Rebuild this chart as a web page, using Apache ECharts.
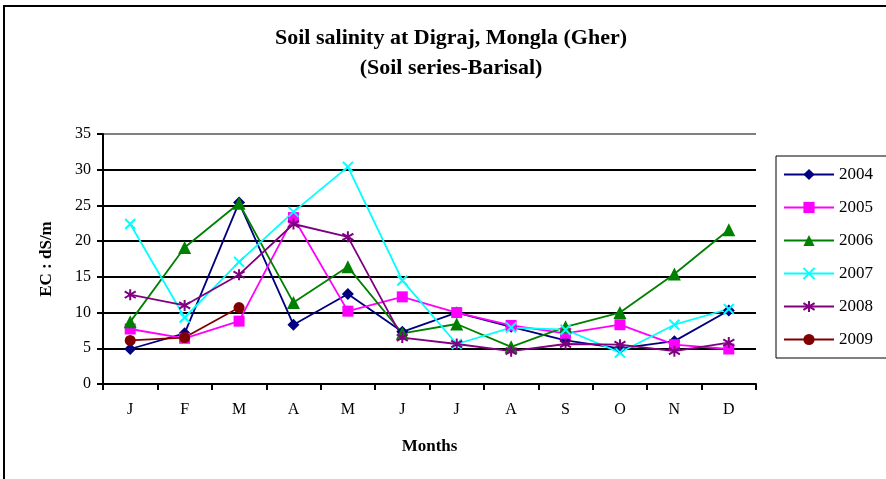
<!DOCTYPE html>
<html>
<head>
<meta charset="utf-8">
<script src="https://cdn.jsdelivr.net/npm/echarts@6/dist/echarts.min.js"></script>
<style>
  html, body { margin: 0; padding: 0; background: #fff; }
  #main { width: 886px; height: 479px; }
</style>
</head>
<body>
<div id="main"></div>
<script>
var myChart = echarts.init(document.getElementById('main'));

var months = ['J', 'F', 'M', 'A', 'M', 'J', 'J', 'A', 'S', 'O', 'N', 'D'];
var years = ['2004', '2005', '2006', '2007', '2008', '2009'];

var ec2004 = [4.9, 7.1, 25.4, 8.3, 12.6, 7.3, 10.0, 8.0, 6.1, 5.0, 6.0, 10.3];
var ec2005 = [7.7, 6.4, 8.8, 23.3, 10.2, 12.2, 10.0, 8.2, 7.1, 8.3, 5.5, 4.9];
var ec2006 = [8.7, 19.1, 25.3, 11.4, 16.4, 7.1, 8.4, 5.2, 8.0, 10.0, 15.4, 21.6];
var ec2007 = [22.4, 9.3, 17.1, 24.1, 30.4, 14.5, 5.6, 7.9, 7.6, 4.4, 8.3, 10.5];
var ec2008 = [12.5, 11.0, 15.3, 22.4, 20.6, 6.5, 5.6, 4.6, 5.6, 5.5, 4.6, 5.8];
var ec2009 = [6.1, 6.5, 10.7, null, null, null, null, null, null, null, null, null];

var colors = ['#000080', '#ff00ff', '#008000', '#00ffff', '#800080', '#800000'];
var symbols = [
    'diamond',
    'rect',
    'triangle',
    'path://M0,0L10,10M10,0L0,10',
    'path://M5,0L5,10M0,2L10,8M0,8L10,2',
    'circle'
];
var sizes = [12, 11, 13, 10, 11, 11];
var values = [ec2004, ec2005, ec2006, ec2007, ec2008, ec2009];

var serif = '"Liberation Serif", "Times New Roman", serif';

var series = years.map(function (y, i) {
    var stroke = i === 3 || i === 4;
    return {
        name: y,
        type: 'line',
        data: values[i],
        symbol: symbols[i],
        symbolSize: sizes[i],
        showAllSymbol: true,
        connectNulls: false,
        lineStyle: { color: colors[i], width: 1.8 },
        itemStyle: {
            color: colors[i],
            borderColor: colors[i],
            borderWidth: stroke ? 2 : 0
        },
        animation: false
    };
});

var option = {
    backgroundColor: '#fff',
    animation: false,
    graphic: [
        {
            type: 'rect',
            shape: { x: 4, y: 6, width: 900, height: 500 },
            style: { fill: 'none', stroke: '#000', lineWidth: 2 },
            silent: true
        },
        {
            type: 'text',
            x: 451, y: 38,
            style: {
                text: 'Soil salinity at Digraj, Mongla (Gher)',
                font: 'bold 22px ' + serif,
                fill: '#000',
                align: 'center',
                verticalAlign: 'middle'
            }
        },
        {
            type: 'text',
            x: 451, y: 68,
            style: {
                text: '(Soil series-Barisal)',
                font: 'bold 22px ' + serif,
                fill: '#000',
                align: 'center',
                verticalAlign: 'middle'
            }
        }
    ],
    legend: {
        orient: 'vertical',
        left: 776,
        top: 156,
        itemWidth: 50,
        itemHeight: 14,
        itemGap: 16,
        padding: [10, 40, 10, 7],
        borderColor: '#000',
        borderWidth: 1,
        textStyle: { fontFamily: serif, fontSize: 17, color: '#000' },
        data: years
    },
    grid: { left: 103, top: 134, right: 130, bottom: 95 },
    xAxis: {
        type: 'category',
        data: months,
        boundaryGap: true,
        name: 'Months',
        nameLocation: 'middle',
        nameGap: 54,
        nameTextStyle: { fontFamily: serif, fontWeight: 'bold', fontSize: 17, color: '#000' },
        axisLine: { lineStyle: { color: '#000', width: 2 } },
        axisTick: { show: true, length: 6, lineStyle: { color: '#000', width: 2 } },
        axisLabel: { fontFamily: serif, fontSize: 16, color: '#000', margin: 18 }
    },
    yAxis: {
        type: 'value',
        min: 0,
        max: 35,
        interval: 5,
        name: 'EC : dS/m',
        nameLocation: 'middle',
        nameGap: 48,
        nameRotate: 90,
        nameTextStyle: { fontFamily: serif, fontWeight: 'bold', fontSize: 17, color: '#000' },
        axisLine: { show: true, lineStyle: { color: '#000', width: 2 } },
        axisTick: { show: true, length: 6, lineStyle: { color: '#000', width: 2 } },
        axisLabel: { fontFamily: serif, fontSize: 16, color: '#000', margin: 12 },
        splitLine: {
            lineStyle: {
                color: ['#000', '#000', '#000', '#000', '#000', '#000', '#000', '#808080'],
                width: 2
            }
        }
    },
    series: series
};
myChart.setOption(option);
</script>
</body>
</html>
